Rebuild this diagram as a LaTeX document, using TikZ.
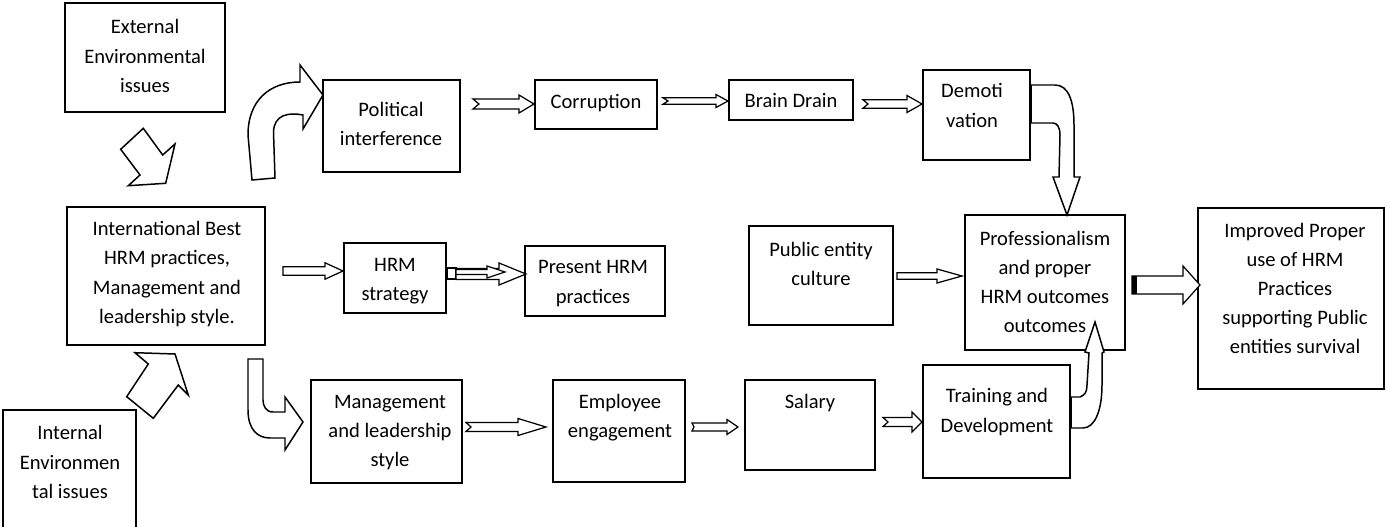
\documentclass[tikz,border=0pt]{standalone}
\usepackage{fontspec}
\setmainfont{Carlito}
\usetikzlibrary{fit}

% horizontal block arrow: #1 tail x, #2 tip x, #3 axis y, #4 shaft half height,
% #5 head half height, #6 head length, #7 tail notch depth
\newcommand\harrow[7]{%
  \draw[blk] (#1,#3-#4) -- (#2-#6,#3-#4) -- (#2-#6,#3-#5) -- (#2,#3)
    -- (#2-#6,#3+#5) -- (#2-#6,#3+#4) -- (#1,#3+#4) -- (#1+#7,#3) -- cycle;}

\begin{document}
\begin{tikzpicture}[x=0.02cm,y=-0.02cm,
  box/.style={draw, line width=0.85pt, inner sep=0pt},
  heavy/.style={box, line width=1.25pt},
  txt/.style={align=center, font=\fontsize{11.7}{16.6}\selectfont, inner sep=0pt},
  blk/.style={draw, fill=white, line width=0.7pt, line join=miter},
  bendarrow/.style={draw, fill=white, line width=0.85pt, line join=miter}]

\useasboundingbox (0,0) rectangle (1387,527);
\clip (0,0) rectangle (1387,527);

% boxes
\node[box]   (ext)  [fit={(65,3) (225,112)}] {};
\node[box]   (intl) [fit={(67,207) (265,345)}] {};
\node[heavy] (inn)  [fit={(3,410) (136,535)}] {};
\node[box]   (pol)  [fit={(323,80) (460,172)}] {};
\node[box]   (cor)  [fit={(535,80) (657,129)}] {};
\node[box]   (bd)   [fit={(729,80) (853,120)}] {};
\node[heavy] (dem)  [fit={(923,70) (1030,160)}] {};
\node[box]   (hrs)  [fit={(344,243) (446,313)}] {};
\node[box]   (phr)  [fit={(525,246) (665,316)}] {};
\node[box]   (pub)  [fit={(749,226) (893,325)}] {};
\node[box]   (pro)  [fit={(965,215) (1125,350)}] {};
\node[box]   (imp)  [fit={(1198,208) (1384,389)}] {};
\node[box]   (mgt)  [fit={(311,380) (462,483)}] {};
\node[box]   (emp)  [fit={(553,380) (685,482)}] {};
\node[box]   (sal)  [fit={(745,380) (875,470)}] {};
\node[heavy] (trn)  [fit={(923,365) (1070,478)}] {};

% texts
\node[txt] (t-ext)  at (145,56)    {External\\Environmental\\issues};
\node[txt] (t-intl) at (167,274)   {International Best\\HRM practices,\\Management and\\leadership style.};
\node[txt] (t-inn)  at (70,462)    {Internal\\Environmen\\tal issues};
\node[txt] (t-pol)  at (391,124)   {Political\\interference};
\node[txt] (t-cor)  at (596,103)   {Corruption};
\node[txt] (t-bd)   at (791,101)   {Brain Drain};
\node[txt] (t-dem)  at (972,105.5) {Demoti\\vation};
\node[txt] (t-hrs)  at (395,281)   {HRM\\strategy};
\node[txt] (t-phr)  at (593,283.5) {Present HRM\\practices};
\node[txt] (t-pub)  at (821,264)   {Public entity\\culture};
\node[txt] (t-pro)  at (1045,282)  {Professionalism\\and proper\\HRM outcomes\\outcomes};
\node[txt] (t-imp)  at (1295,288.5){Improved Proper\\use of HRM\\Practices\\supporting Public\\entities survival};
\node[txt] (t-mgt)  at (390,432.5) {Management\\and leadership\\style};
\node[txt] (t-emp)  at (620,417.5) {Employee\\engagement};
\node[txt] (t-sal)  at (810,403)   {Salary};
\node[txt] (t-trn)  at (997,412)   {Training and\\Development};

% diagonal block arrows into the central box
\draw[bendarrow] (120.7,149.3) -- (143.3,128.3) -- (162.7,155) -- (175,144)
  -- (165.7,183.3) -- (128.3,185.7) -- (140,175) -- cycle;
\draw[bendarrow] (148.3,364) -- (135,352.7) -- (175,354) -- (188.3,395)
  -- (178.3,385) -- (153.3,418.3) -- (126.7,396.7) -- cycle;

% bent arrow up to Political interference
\draw[bendarrow] (252,180) -- (248,135) .. controls (248,100) and (270,82) .. (300,82)
  -- (300,65) -- (323,95) -- (303,129) -- (303,115)
  .. controls (288,112) and (274,115) .. (273.5,132) -- (275,178) -- cycle;

% bent arrow down to Management and leadership style
\draw[bendarrow] (248,359) -- (248,410) .. controls (248,430) and (258,438) .. (270,438)
  -- (285,438) -- (285,450) -- (303,422) -- (285,397) -- (285,412) -- (273,412)
  .. controls (266,412) and (263,406) .. (263,400) -- (263,359) -- cycle;

% bent arrow from Demotivation down to Professionalism
\draw[bendarrow] (1031,85) -- (1055,85) .. controls (1068,85) and (1074,100) .. (1074,125)
  -- (1074,177) -- (1080,177) -- (1067,215) -- (1053,177) -- (1059,177) -- (1060,135)
  .. controls (1060,127) and (1057,123) .. (1053,123) -- (1031,123) -- cycle;

% bent arrow from Training and Development up to Professionalism
\draw[bendarrow] (1071,397) -- (1080,397) .. controls (1085,395) and (1087,392) .. (1087,385)
  -- (1089,353) -- (1085,352) -- (1095,322) -- (1104,352) -- (1102,353) -- (1102,385)
  .. controls (1102,410) and (1095,428) .. (1083,428) -- (1071,428) -- cycle;

% straight block arrows
\harrow{473}{534}{104}{5}{9}{15}{6}      % Political -> Corruption
\harrow{663}{728}{101}{3.2}{6.5}{12}{5}  % Corruption -> Brain Drain
\harrow{863}{922}{104}{4.2}{8.5}{15}{5}  % Brain Drain -> Demotivation
\harrow{283}{343}{271}{4.2}{8.2}{18}{0}  % International -> HRM strategy
\draw[blk] (447,268) rectangle (456,279);
\harrow{456}{526}{274}{5.5}{11}{27}{0}   % HRM strategy -> Present HRM
\harrow{456}{505}{272}{2.5}{6}{18}{0}
\harrow{897}{962}{276}{3.3}{7}{25}{0}    % Public entity -> Professionalism
\harrow{1132}{1200}{285}{9}{19}{17}{0}   % Professionalism -> Improved
\fill (1132,276) rectangle (1137,294);
\harrow{466}{546}{427}{4.5}{8.5}{28}{5}  % Management -> Employee
\harrow{692}{738}{427}{4}{7.5}{11}{2}    % Employee -> Salary
\harrow{883}{922}{422}{4.5}{10}{10}{5}   % Salary -> Training

\end{tikzpicture}
\end{document}
